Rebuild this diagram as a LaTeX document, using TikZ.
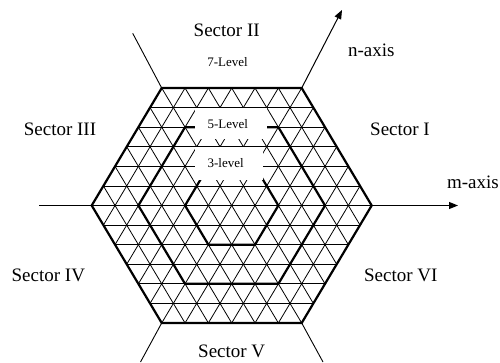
\documentclass[tikz,border=0pt]{standalone}
\usepackage{fontspec}
\setmainfont{Liberation Serif}
\usetikzlibrary{arrows.meta}
\begin{document}
\begin{tikzpicture}[x=1pt,y=-1pt,
  gridline/.style={line width=0.8pt, black},
  hexline/.style={line width=2.2pt, line join=miter},
  axisline/.style={line width=1pt, -{Triangle[length=9pt,width=7pt]}},
  rayline/.style={line width=0.9pt},
  sector/.style={font=\fontsize{19}{19}\selectfont, anchor=base, inner sep=0pt},
  lvl/.style={font=\fontsize{13}{13}\selectfont, anchor=base, inner sep=0pt},
  maskbox/.style={fill=white, inner sep=0pt}]
\useasboundingbox (0,0) rectangle (500,362);
\def\cx{231.7}
\def\cy{205.5}
\def\a{23.33}
\def\h{19.58}
% outer hexagon vertices
\coordinate (R)  at ({\cx+6*\a}, {\cy});
\coordinate (TR) at ({\cx+3*\a}, {\cy-6*\h});
\coordinate (TL) at ({\cx-3*\a}, {\cy-6*\h});
\coordinate (L)  at ({\cx-6*\a}, {\cy});
\coordinate (BL) at ({\cx-3*\a}, {\cy+6*\h});
\coordinate (BR) at ({\cx+3*\a}, {\cy+6*\h});
% triangular grid
\begin{scope}
\clip (R)--(TR)--(TL)--(L)--(BL)--(BR)--cycle;
\foreach \k in {-5,...,5}
  \draw[gridline] ({\cx-7*\a}, {\cy+\k*\h}) -- ({\cx+7*\a}, {\cy+\k*\h});
\foreach \i in {-6,...,6} {
  \draw[gridline] ({\cx+\i*\a-3.5*\a}, {\cy+7*\h}) -- ({\cx+\i*\a+3.5*\a}, {\cy-7*\h});
  \draw[gridline] ({\cx+\i*\a+3.5*\a}, {\cy+7*\h}) -- ({\cx+\i*\a-3.5*\a}, {\cy-7*\h});
}
\end{scope}
% level hexagons
\foreach \s in {2,4,6}
  \draw[hexline] ({\cx+\s*\a},{\cy}) -- ({\cx+\s*\a/2},{\cy-\s*\h}) -- ({\cx-\s*\a/2},{\cy-\s*\h})
     -- ({\cx-\s*\a},{\cy}) -- ({\cx-\s*\a/2},{\cy+\s*\h}) -- ({\cx+\s*\a/2},{\cy+\s*\h}) -- cycle;
% label masks
\node[maskbox, minimum width=72pt, minimum height=31pt] (m5) at (231,123.5) {};
\node[maskbox, minimum width=68pt, minimum height=33pt] (m3) at (229,163.5) {};
\node[lvl] (l5) at (227.8,128.3) {5-Level};
\node[lvl] (l3) at (225.7,167.3) {3-level};
\node[lvl] (l7) at (227.5,66.7) {7-Level};
% axes and sector rays
\coordinate (nTip) at (342,10);
\coordinate (mTip) at (458,205.5);
\coordinate (lEnd) at (39.3,205.5);
\coordinate (tlEnd) at (132.7,33.3);
\coordinate (blEnd) at (140.5,362);
\coordinate (brEnd) at (323,362);
\draw[axisline] (TR) -- (nTip);
\draw[axisline] (R) -- (mTip);
\draw[rayline] (L) -- (lEnd);
\draw[rayline] (TL) -- (tlEnd);
\draw[rayline] (BL) -- (blEnd);
\draw[rayline] (BR) -- (brEnd);
% texts
\node[sector] (s2) at (226.7,36.7) {Sector II};
\node[sector] (s1) at (400,135.3) {Sector I};
\node[sector] (s3) at (60,135.3) {Sector III};
\node[sector] (s4) at (48.3,281.7) {Sector IV};
\node[sector] (s5) at (231.7,357.3) {Sector V};
\node[sector] (s6) at (400.8,281.7) {Sector VI};
\node[sector] (na) at (371.3,56.7) {n-axis};
\node[sector, anchor=base east] (ma) at (499,188.3) {m-axis};
\end{tikzpicture}
\end{document}
